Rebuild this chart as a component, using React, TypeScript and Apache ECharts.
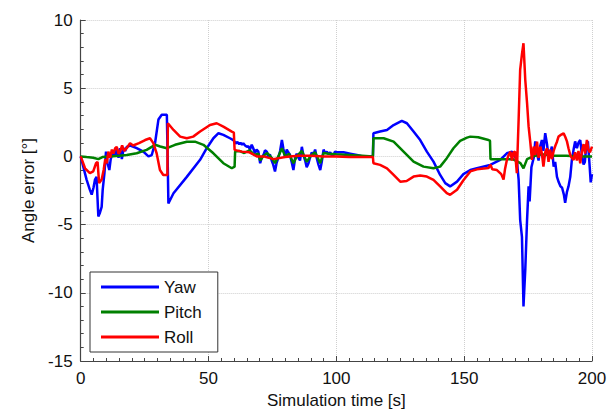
import React, { useEffect, useRef } from "react";
import * as echarts from "echarts";

const xTicks = [0, 50, 100, 150, 200];
const yTicks = [-15, -10, -5, 0, 5, 10];

const yawData: [number, number][] = [
  [0, 0], [1, -0.75], [2.3, -1.7], [3.6, -2.45], [4.3, -2.8], [5, -2.3], [5.6, -1.7], [6.2, -1.5],
  [6.9, -4.4], [7.5, -4.15], [8.2, -3.7], [8.6, -2.45], [9.3, -1.2], [9.9, 0.35], [10.5, -0.5],
  [11.2, -1], [11.7, -0.25], [12.5, 0.35], [13.4, 0], [14.1, 0.6], [14.8, -0.1], [15.4, 0.6],
  [16.1, -0.2], [16.8, 0.6], [17.4, 0.4], [18, 0.7], [19.4, 0.8], [21.9, 0.6], [24.5, 0.35],
  [26.5, 0], [27.8, 0.1], [29.1, 1.0], [30.4, 2.7], [31.7, 3.05], [33.7, 3.05], [34.0, 0],
  [34.3, -3.45], [36.3, -2.7], [41.5, -1.5], [46.7, -0.25], [49.3, 0.6], [51.9, 1.33], [53.9, 1.7],
  [55.8, 1.58], [58.4, 1.33], [59.7, 1.2], [60.6, 0.95], [61.3, 1.05], [62, 0.9], [62.5, 1.0],
  [63.1, 0.85], [63.6, 0.97], [64.3, 0.8], [65, 0.7], [65.6, 0.75], [66.2, 0.5], [66.9, 0.85],
  [67.5, 0.6], [68.2, 0.23], [68.8, 0.5], [69.5, 0.35], [70.2, -0.5], [70.8, -0.1], [71.5, 0.1],
  [72.1, 0.45], [72.8, 0.35], [73.4, -0.1], [74, 0.15], [74.7, -0.3], [75.3, -0.6], [76, -1.1],
  [76.6, -0.5], [77.3, -0.1], [78, 0.4], [78.7, 1.2], [79.3, 0.55], [80, -0.1], [80.6, 0.5],
  [81.2, 0.3], [81.9, 0.1], [82.5, -0.4], [83.2, -1.0], [83.9, -0.1], [84.5, 0.2], [85.2, -0.1],
  [85.8, -0.3], [86.5, 0.7], [87.1, 0.1], [87.8, -0.3], [88.4, -0.8], [89.1, -0.5], [89.7, -0.1],
  [90.4, 0.3], [91, 0.1], [91.7, 0.5], [92.3, -0.1], [93, -0.6], [93.7, -1.0], [94.3, -0.4],
  [95, 0.5], [95.6, 0.25], [96.3, 0.35], [97, 0.15], [97.6, 0.3], [98.3, 0.05], [98.9, 0.1],
  [99.5, 0.35], [100.2, 0.3], [102.8, 0.3], [105.4, 0.2], [108, 0.1],
  [110, 0.02], [114.3, 0], [114.5, 1.7], [117.1, 1.82], [119.8, 1.94], [122.4, 2.3], [125.6, 2.6],
  [127.6, 2.43], [130.2, 1.82], [132.8, 1.2], [135.4, 0.35], [138, -0.38], [140.6, -1.36],
  [142.6, -1.96], [144.5, -2.2], [147.2, -1.85], [149.7, -1.3], [152.4, -1.0], [155, -0.87],
  [160.2, -0.62], [164.1, -0.26], [166.7, 0.23], [168.7, 0.35], [170.6, -0.26], [171.3, -1.7],
  [171.9, -4.65], [172.6, -5.9], [173.2, -11.0], [173.9, -8.3], [174.6, -4.65], [175.2, -2.2],
  [175.6, -3.3], [176.3, -0.8], [177.2, -0.1], [177.8, 1.1], [178.5, 0.2], [179.1, -0.3],
  [179.8, 0.8], [180.4, 1.2], [181.0, 0.4], [181.7, 1.7], [182.4, 0.9], [183, 0], [183.7, 0.3],
  [184.3, 0.72], [185, -0.75], [185.6, -0.4], [186.3, -1.5], [187, -1.9], [187.7, -2.2],
  [188.3, -2.3], [189, -2.8], [189.5, -3.4], [190.2, -2.6], [190.8, -2.2], [191.5, -1.5],
  [192.1, -0.3], [192.8, 0.5], [193.4, 1.1], [194.1, 0.6], [194.7, 1.0], [195.4, 1.2], [196, 0.2],
  [196.7, -0.6], [197.2, -0.4], [197.8, 0.8], [198.4, 1.1], [199, -0.5], [199.5, -1.9], [200, -1.3],
];

const pitchData: [number, number][] = [
  [0, 0], [2.3, -0.05], [4.9, -0.1], [6.9, -0.2], [8.5, -0.05], [11.5, 0], [15, 0.05], [18, 0.1],
  [21.9, 0.23], [25.8, 0.48], [29.1, 0.85], [31.1, 0.73], [33.7, 0.6], [36.9, 0.85], [41.5, 1.08],
  [44.7, 1.08], [48, 0.85], [51.9, 0.23], [55.8, -0.5], [59.1, -0.87], [60.2, -0.75], [60.4, 0.35],
  [62, 0.4], [64, 0.25], [66, 0.45], [68, 0.1], [69.5, 0.2], [70.2, -0.3], [71.5, 0.05], [73, 0.25],
  [74.7, -0.1], [76, -0.5], [77.3, 0], [78.7, 0.6], [80, 0], [81.5, 0.2], [83.2, -0.5], [84.5, 0],
  [86.5, 0.4], [88.4, -0.4], [90, 0.05], [91.7, 0.3], [93.7, -0.5], [95, 0.25], [97, 0.2],
  [100, 0.15], [105, 0.1], [110, 0.05], [114.3, 0], [114.5, 1.33], [118.5, 1.33], [122.4, 1.08],
  [126.3, 0.35], [130.2, -0.38], [134.1, -0.75], [138, -0.87], [140.6, -0.75], [143.2, -0.13],
  [145.8, 0.6], [148.4, 1.14], [151.1, 1.38], [152.4, 1.45], [155.5, 1.4], [159.5, 1.2],
  [160.1, 1.15], [160.3, -0.2], [165.4, -0.2], [169, -0.2], [172, -0.5], [173.2, -0.87],
  [174.6, -0.2], [177, 0], [180.3, 0.15], [185, 0.05], [190, 0.05], [195, 0], [200, 0],
];

const rollData: [number, number][] = [
  [0, 0], [1.7, -0.87], [3.6, -1.23], [4.9, -1.1], [6, -0.5], [6.6, -0.4], [7.2, -1.96], [8.2, -1.7],
  [9, -0.98], [9.6, -0.2], [10.2, -0.5], [10.8, 0.35], [11.5, -0.1], [12.2, 0.5], [12.8, 0.2],
  [13.5, 0.6], [14.1, 0.7], [14.8, 0.2], [15.4, 0.35], [16.2, 0.8], [17, 0.4], [18, 0.6],
  [19.3, 0.97], [20.5, 0.8], [22.8, 0.97], [25.2, 1.2], [27.1, 1.33], [28.4, 0.97], [29.7, 0.23],
  [31, -1.0], [32.3, -1.36], [33.9, -1.36], [34.1, 2.43], [36.3, 1.94], [38.9, 1.45], [41.5, 1.33],
  [44, 1.45], [46.7, 1.82], [50.6, 2.3], [53.2, 2.43], [55.8, 2.18], [59.1, 1.82], [59.9, 1.75],
  [60.2, 0.48], [63, 0.35], [66, 0.3], [68.9, 0], [71.5, 0], [75.4, -0.2], [80, -0.05], [85, 0.05],
  [90, 0.05], [95, 0], [100, 0], [105, -0.05], [110, -0.05], [114.3, -0.05], [114.5, -0.5],
  [117.1, -0.62], [119.8, -0.87], [122.4, -1.36], [125, -1.85], [127.5, -1.8], [130.2, -1.48],
  [132.8, -1.4], [135.4, -1.48], [138, -1.72], [140.6, -2.2], [143.2, -2.7], [144.5, -2.82],
  [147.2, -2.45], [149.7, -1.75], [152.4, -1.1], [155, -0.95], [159.5, -0.85], [160.3, -0.6],
  [161, -0.95], [162.8, -1.0], [164.5, -1.3], [165.4, -1.7], [166, -0.9], [166.7, -0.26],
  [167.4, 0.1], [168.1, 0.35], [168.7, -0.3], [169.3, 0.3], [169.9, 0.35], [170.6, -1.23],
  [171.3, 2.7], [171.9, 6.35], [172.6, 7.5], [173.2, 8.3], [173.9, 5.6], [174.6, 3.9], [175.2, 2.2],
  [175.9, 0.97], [176.5, -0.26], [177.2, 0.72], [177.8, 0.1], [178.5, 1.08], [179.1, -0.1],
  [179.8, 0.72], [180.4, 0.2], [181, -0.75], [181.7, 0.3], [182.4, 0.6], [183, -0.4], [183.6, 0.5],
  [184.3, -0.2], [185, 0.4], [185.7, 0.8], [186.3, 1.08], [186.9, 1.45], [188, 1.6], [188.9, 1.7],
  [189.6, 1.4], [190.2, 1.1], [190.8, 0.6], [191.5, 0.1], [192.1, -0.1], [192.8, -0.26],
  [193.4, 0.3], [194.1, -0.3], [194.7, 0.4], [195.4, -0.5], [196, 0.3], [196.7, 0.9], [197.3, 0.2],
  [198, 1.2], [198.6, 0.5], [199.2, 0.3], [200, 0.72],
];

const seriesNames = ["Yaw", "Pitch", "Roll"];
const seriesColors = ["#0000ff", "#008000", "#ff0000"];

export default function App() {
  const ref = useRef<HTMLDivElement>(null);
  useEffect(() => {
    if (!ref.current) return;
    const chart = echarts.init(ref.current, undefined, { renderer: "svg" });
    const font = "Liberation Sans, Arial, sans-serif";
    const datasets = [yawData, pitchData, rollData];
    chart.setOption({
      animation: false,
      grid: { left: 80.7, right: 18, top: 20, bottom: 54, containLabel: false },
      legend: {
        orient: "vertical",
        left: 90,
        top: 272,
        padding: [5, 16, 5, 11],
        itemGap: 5,
        itemWidth: 58,
        itemHeight: 3,
        borderColor: "#333",
        borderWidth: 1,
        backgroundColor: "#fff",
        icon: "rect",
        data: seriesNames,
        textStyle: { fontFamily: font, fontSize: 17, color: "#111", lineHeight: 20 },
      },
      xAxis: {
        type: "value",
        min: xTicks[0],
        max: xTicks[xTicks.length - 1],
        interval: 50,
        name: "Simulation time [s]",
        nameLocation: "middle",
        nameGap: 28,
        nameTextStyle: { fontFamily: font, fontSize: 17, color: "#111" },
        axisLine: { show: true, onZero: false, lineStyle: { color: "#444", width: 1.2 } },
        axisTick: { show: true, inside: true, length: 5, lineStyle: { color: "#444" } },
        minorTick: { show: true, splitNumber: 10, length: 3, lineStyle: { color: "#444" } },
        axisLabel: { fontFamily: font, fontSize: 17, color: "#111", margin: 9 },
        splitLine: { show: true, lineStyle: { color: "#cfcfcf", type: "dotted", width: 1 } },
      },
      yAxis: {
        type: "value",
        min: yTicks[0],
        max: yTicks[yTicks.length - 1],
        interval: 5,
        name: "Angle error [°]",
        nameLocation: "middle",
        nameGap: 44,
        nameTextStyle: { fontFamily: font, fontSize: 17, color: "#111" },
        axisLine: { show: true, onZero: false, lineStyle: { color: "#444", width: 1.2 } },
        axisTick: { show: true, inside: true, length: 5, lineStyle: { color: "#444" } },
        minorTick: { show: true, splitNumber: 5, length: 3, lineStyle: { color: "#444" } },
        axisLabel: { fontFamily: font, fontSize: 17, color: "#111", margin: 8 },
        splitLine: { show: true, lineStyle: { color: "#cfcfcf", type: "dotted", width: 1 } },
      },
      series: datasets.map((d, i) => ({
        name: seriesNames[i],
        type: "line",
        data: d,
        showSymbol: false,
        symbol: "none",
        lineStyle: { color: seriesColors[i], width: 2.5 },
        itemStyle: { color: seriesColors[i] },
        z: 2 + i,
      })),
    });
    return () => chart.dispose();
  }, []);
  return <div ref={ref} style={{ width: 610, height: 415, position: "absolute", left: 0, top: 0, background: "#fff" }} />;
}
